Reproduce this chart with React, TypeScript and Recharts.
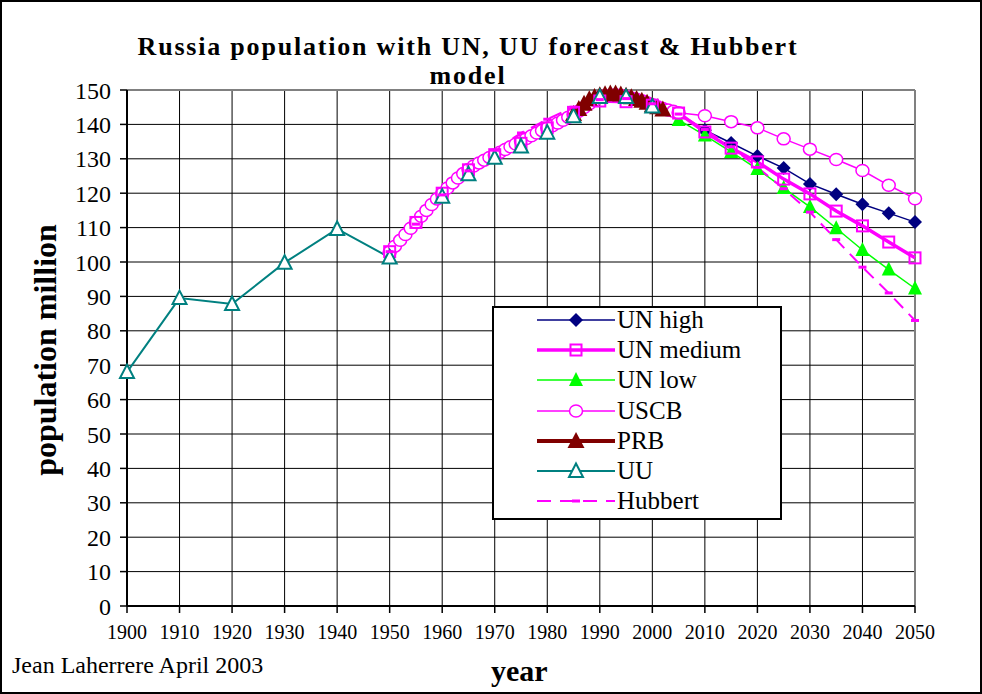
import React from 'react';
import { ComposedChart, Line, XAxis, YAxis, CartesianGrid, ReferenceLine, Legend } from 'recharts';

const FONT = '"Liberation Serif", "Times New Roman", serif';

// axis ticks
const xTicks = [1900, 1910, 1920, 1930, 1940, 1950, 1960, 1970, 1980, 1990, 2000, 2010, 2020, 2030, 2040, 2050];
const yTicks = [0, 10, 20, 30, 40, 50, 60, 70, 80, 90, 100, 110, 120, 130, 140, 150];

// UN medium + Hubbert: every 5 years
const unYears = [1950, 1955, 1960, 1965, 1970, 1975, 1980, 1985, 1990, 1995, 2000, 2005, 2010, 2015, 2020, 2025, 2030, 2035, 2040, 2045, 2050];
const unMedium = [103, 111.5, 120, 126.8, 131.2, 134.5, 139, 143.5, 146.8, 146.6, 145.6, 143.3, 137.8, 133.1, 129.1, 124.1, 119.8, 114.8, 110.5, 105.8, 101.2];
const hubbert = [103, 111, 119.5, 126.5, 132.5, 137.5, 141.5, 145, 147.2, 147.5, 146, 143, 138.5, 133.5, 127.5, 121.3, 114.5, 106.5, 98.5, 91, 83];

// UN high / low forecasts
const fcYears = [2000, 2005, 2010, 2015, 2020, 2025, 2030, 2035, 2040, 2045, 2050];
const unHigh = [145.6, 143, 138.3, 134.6, 130.8, 127.3, 122.7, 119.7, 116.8, 114.2, 111.6];
const unLow = [145.6, 141.3, 136.8, 132, 127, 121.5, 116, 109.8, 103.5, 97.8, 92.3];

// USCB: yearly to 2005, then 5-yearly
const uscbYears = [
  1950, 1951, 1952, 1953, 1954, 1955, 1956, 1957, 1958, 1959,
  1960, 1961, 1962, 1963, 1964, 1965, 1966, 1967, 1968, 1969,
  1970, 1971, 1972, 1973, 1974, 1975, 1976, 1977, 1978, 1979,
  1980, 1981, 1982, 1983, 1984, 1985, 1986, 1987, 1988, 1989,
  1990, 1991, 1992, 1993, 1994, 1995, 1996, 1997, 1998, 1999,
  2000, 2001, 2002, 2003, 2004, 2005,
  2010, 2015, 2020, 2025, 2030, 2035, 2040, 2045, 2050,
];
const uscb = [
  102.9, 104.6, 106.3, 108, 109.8, 111.5, 113.3, 115, 116.7, 118.3,
  119.9, 121.5, 123, 124.4, 125.7, 126.9, 127.9, 128.8, 129.6, 130.4,
  131.1, 131.9, 132.7, 133.5, 134.3, 135.1, 135.9, 136.7, 137.5, 138.2,
  138.9, 139.6, 140.4, 141.2, 142.1, 142.9, 143.8, 144.9, 146, 147,
  147.9, 148.3, 148.5, 148.6, 148.4, 148.1, 147.7, 147.3, 146.9, 146.3,
  145.7, 145.1, 144.6, 144.2, 143.8, 143.4,
  142.5, 140.8, 139, 135.8, 132.8, 129.8, 126.6, 122.3, 118.4,
];

// PRB yearly
const prbYears = [1985, 1986, 1987, 1988, 1989, 1990, 1991, 1992, 1993, 1994, 1995, 1996, 1997, 1998, 1999, 2000, 2001, 2002];
const prb = [143, 144.5, 146, 147.3, 148, 148.5, 148.8, 149, 149, 148.7, 148.3, 147.9, 147.4, 146.9, 146.3, 145.6, 145, 144.3];

// UU
const uuYears = [1900, 1910, 1920, 1930, 1940, 1950, 1960, 1965, 1970, 1975, 1980, 1985, 1990, 1995, 2000];
const uu = [68, 89.5, 87.8, 99.8, 109.6, 101.3, 119, 125.5, 130.3, 133.6, 137.6, 142.4, 148, 148, 145.2];

type Shape = 'diamond' | 'square' | 'triFill' | 'circle' | 'triBig' | 'triOpen' | 'dash';

const toPoints = (xs: number[], ys: number[]) => xs.map((year, i) => ({ year, v: ys[i] }));

const Marker = ({ shape, cx, cy, color }: { shape: Shape; cx: number; cy: number; color: string }) => {
  switch (shape) {
    case 'diamond':
      return <polygon points={`${cx},${cy - 7} ${cx + 7},${cy} ${cx},${cy + 7} ${cx - 7},${cy}`} fill={color} />;
    case 'square':
      return <rect x={cx - 5.5} y={cy - 5.5} width={11} height={11} fill="none" stroke={color} strokeWidth={2} />;
    case 'triFill':
      return <polygon points={`${cx},${cy - 8} ${cx + 7},${cy + 6} ${cx - 7},${cy + 6}`} fill={color} />;
    case 'circle':
      return <ellipse cx={cx} cy={cy} rx={6.5} ry={6} fill="#fff" stroke={color} strokeWidth={1.5} />;
    case 'triBig':
      return <polygon points={`${cx},${cy - 9} ${cx + 8.5},${cy + 7} ${cx - 8.5},${cy + 7}`} fill={color} />;
    case 'triOpen':
      return <polygon points={`${cx},${cy - 7.5} ${cx + 7},${cy + 6} ${cx - 7},${cy + 6}`} fill="#fff" stroke={color} strokeWidth={2} />;
    case 'dash':
      return <rect x={cx - 4} y={cy - 1.5} width={8} height={3} fill={color} />;
  }
  return null;
};

interface Series {
  name: string;
  xs: number[];
  ys: number[];
  color: string;
  width: number;
  dash?: string;
  shape: Shape;
}

const UN_HIGH: Series = { name: 'UN high', xs: fcYears, ys: unHigh, color: '#000080', width: 1.5, shape: 'diamond' };
const UN_MED: Series = { name: 'UN medium', xs: unYears, ys: unMedium, color: '#ff00ff', width: 3.5, shape: 'square' };
const UN_LOW: Series = { name: 'UN low', xs: fcYears, ys: unLow, color: '#00ff00', width: 1.5, shape: 'triFill' };
const USCB: Series = { name: 'USCB', xs: uscbYears, ys: uscb, color: '#ff00ff', width: 1.5, shape: 'circle' };
const PRB: Series = { name: 'PRB', xs: prbYears, ys: prb, color: '#800000', width: 4, shape: 'triBig' };
const UU: Series = { name: 'UU', xs: uuYears, ys: uu, color: '#008080', width: 2, shape: 'triOpen' };
const HUBBERT: Series = { name: 'Hubbert', xs: unYears, ys: hubbert, color: '#ff00ff', width: 2, dash: '13 8', shape: 'dash' };

const legendOrder = [UN_HIGH, UN_MED, UN_LOW, USCB, PRB, UU, HUBBERT];
const drawOrder = [UN_HIGH, UN_LOW, USCB, PRB, UN_MED, UU, HUBBERT];

const renderLegend = () => (
  <div
    style={{
      position: 'relative',
      width: 290,
      height: 214,
      boxSizing: 'border-box',
      border: '2px solid #000',
      background: '#fff',
      fontFamily: FONT,
      fontSize: 25,
      color: '#000',
    }}
  >
    {legendOrder.map((s, i) => (
      <div key={s.name} style={{ position: 'absolute', left: 0, top: i * 30.2 - 3, height: 30, display: 'flex', alignItems: 'center' }}>
        <svg width={123} height={30} style={{ display: 'block' }}>
          <line x1={43} y1={15} x2={121} y2={15} stroke={s.color} strokeWidth={s.width} strokeDasharray={s.dash ? '14 9' : undefined} />
          <Marker shape={s.shape} cx={82} cy={15} color={s.color} />
        </svg>
        <span style={{ lineHeight: '30px', whiteSpace: 'nowrap' }}>{s.name}</span>
      </div>
    ))}
  </div>
);

const App: React.FC = () => {
  return (
    <div style={{ position: 'absolute', left: 0, top: 0, width: 982, height: 694, background: '#fff' }}>
      <ComposedChart width={982} height={694} margin={{ top: 90, right: 67, bottom: 48, left: 67 }}>
        <CartesianGrid stroke="#000" strokeWidth={1} />
        <XAxis
          type="number"
          dataKey="year"
          domain={[1900, 2050]}
          ticks={xTicks}
          interval={0}
          height={40}
          tickSize={7}
          tickMargin={12}
          axisLine={{ stroke: '#000', strokeWidth: 2 }}
          tickLine={{ stroke: '#000', strokeWidth: 1.5 }}
          tick={{ fill: '#000', fontSize: 20, fontFamily: FONT }}
        />
        <YAxis
          type="number"
          domain={[0, 150]}
          ticks={yTicks}
          interval={0}
          width={60}
          tickSize={7}
          tickMargin={9}
          axisLine={{ stroke: '#000', strokeWidth: 2 }}
          tickLine={{ stroke: '#000', strokeWidth: 1.5 }}
          tick={{ fill: '#000', fontSize: 24, fontFamily: FONT }}
        />
        <ReferenceLine y={150} stroke="#808080" strokeWidth={2} />
        <ReferenceLine x={2050} stroke="#808080" strokeWidth={2} />
        {drawOrder.map((s) => (
          <Line
            key={s.name}
            name={s.name}
            data={toPoints(s.xs, s.ys)}
            dataKey="v"
            type="linear"
            stroke={s.color}
            strokeWidth={s.width}
            strokeDasharray={s.dash}
            isAnimationActive={false}
            activeDot={false}
            dot={(p: any) => <Marker key={`${s.name}-${p.index}`} shape={s.shape} cx={p.cx} cy={p.cy} color={s.color} />}
          />
        ))}
        <Legend
          layout="vertical"
          align="center"
          verticalAlign="middle"
          content={renderLegend}
          wrapperStyle={{ position: 'absolute', left: 492, top: 306, width: 290, height: 214 }}
        />
      </ComposedChart>

      <div
        style={{
          position: 'absolute',
          left: 0,
          top: 32,
          width: 936,
          textAlign: 'center',
          fontFamily: FONT,
          fontWeight: 'bold',
          fontSize: 26,
          lineHeight: '29px',
          letterSpacing: 1.8,
          color: '#000',
        }}
      >
        <div>Russia population with UN, UU forecast &amp; Hubbert</div>
        <div>model</div>
      </div>
      <div
        style={{
          position: 'absolute',
          left: 45,
          top: 350,
          transform: 'translate(-50%, -50%) rotate(-90deg)',
          fontFamily: FONT,
          fontWeight: 'bold',
          fontSize: 32,
          whiteSpace: 'nowrap',
          color: '#000',
        }}
      >
        population million
      </div>
      <div style={{ position: 'absolute', left: 491, top: 655, fontFamily: FONT, fontWeight: 'bold', fontSize: 30, lineHeight: '32px', color: '#000' }}>
        year
      </div>
      <div style={{ position: 'absolute', left: 12, top: 651, fontFamily: FONT, fontSize: 24, lineHeight: '28px', color: '#000' }}>
        Jean Laherrere April 2003
      </div>
      <div style={{ position: 'absolute', left: 0, top: 0, width: 982, height: 694, boxSizing: 'border-box', border: '2px solid #000', pointerEvents: 'none' }} />
    </div>
  );
};

export default App;
